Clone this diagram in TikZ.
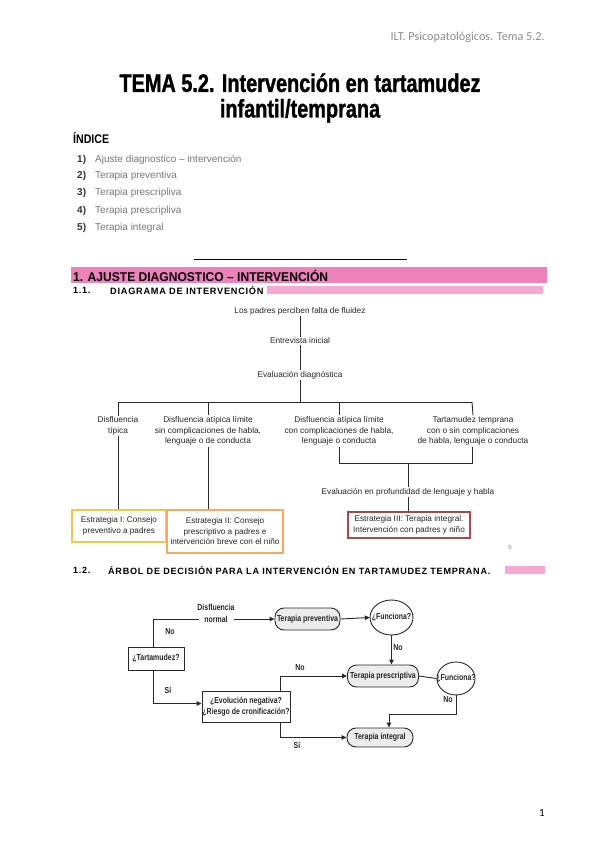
\documentclass[tikz,border=0pt]{standalone}
\usepackage{fontspec}
\setmainfont{Liberation Sans}
\newfontfamily\headfont{Carlito}
\newfontfamily\titlefont[FakeStretch=0.78,FakeBold=1.2]{Liberation Sans}
\newfontfamily\condfont[FakeStretch=0.95]{Liberation Sans}
\newfontfamily\spacedfont[LetterSpace=8]{Liberation Sans}
\newfontfamily\narrowfont[FakeStretch=0.8]{Liberation Sans}
\newfontfamily\idxfont[FakeStretch=0.85]{Liberation Sans}
\usetikzlibrary{arrows.meta,shapes.geometric}
\definecolor{pinkA}{RGB}{238,130,186}
\definecolor{pinkB}{RGB}{245,170,212}
\definecolor{txtgray}{RGB}{120,120,120}
\definecolor{hdgray}{RGB}{140,140,140}
\definecolor{goldC}{RGB}{250,196,70}
\definecolor{orangeC}{RGB}{247,170,95}
\definecolor{redC}{RGB}{172,72,72}
\definecolor{pillfill}{RGB}{236,236,236}
\definecolor{lineC}{RGB}{40,40,40}
\begin{document}
\begin{tikzpicture}[x=1pt,y=-1pt,
  lbl/.style={font=\fontsize{8.3}{10.5}\selectfont, align=center, inner sep=1pt, text=black!85},
  dline/.style={draw=lineC, line width=0.9pt},
  stratbox/.style={draw=#1, line width=1.4pt, align=center, inner sep=0pt, font=\fontsize{8.2}{10.5}\selectfont, text=black!85},
  dtxt/.style={font=\narrowfont\bfseries\fontsize{8.7}{10.5}\selectfont, text=black!85},
  pill/.style={dtxt, draw=lineC, line width=0.9pt, fill=pillfill, rounded corners=9pt, inner sep=0pt},
  qbox/.style={dtxt, draw=lineC, line width=0.9pt, fill=white, inner sep=0pt, align=center},
  qell/.style={dtxt, inner sep=0pt},
  arr/.style={dline, -{Triangle[length=5pt,width=4.5pt]}},
  lab/.style={dtxt, inner sep=0pt},
  idxnum/.style={anchor=west, inner sep=0pt, font=\fontsize{10}{11}\selectfont\bfseries, text=black!80},
  idxtxt/.style={anchor=west, inner sep=0pt, font=\fontsize{10}{11}\selectfont, text=txtgray}
]
\useasboundingbox (0,0) rectangle (599,848);
\fill[white] (0,0) rectangle (599,848);

% header
\node[anchor=east, inner sep=0pt, font=\headfont\fontsize{12.2}{13}\selectfont, text=hdgray] (hdr) at (545,37) {ILT. Psicopatológicos. Tema 5.2.};

% title
\node[align=center, inner sep=0pt, font=\titlefont\bfseries\fontsize{25.5}{25.5}\selectfont] (title) at (300,98) {TEMA 5.2. Intervención en tartamudez\\infantil/temprana};

% index
\node[anchor=west, inner sep=0pt, font=\idxfont\bfseries\fontsize{12.5}{13}\selectfont] (idx) at (73,138) {ÍNDICE};
\node[idxnum] (n1) at (77,160) {1)}; \node[idxtxt] (t1) at (95,160) {Ajuste diagnostico – intervención};
\node[idxnum] (n2) at (77,176) {2)}; \node[idxtxt] (t2) at (95,176) {Terapia preventiva};
\node[idxnum] (n3) at (77,193) {3)}; \node[idxtxt] (t3) at (95,193) {Terapia prescripliva};
\node[idxnum] (n4) at (77,211) {4)}; \node[idxtxt] (t4) at (95,211) {Terapia prescripliva};
\node[idxnum] (n5) at (77,228) {5)}; \node[idxtxt] (t5) at (95,228) {Terapia integral};

% separator rule
\draw[line width=0.8pt] (194,259) -- (407,259);

% section 1 bar
\fill[pinkA] (71,267) rectangle (547,283);
\node[anchor=west, inner sep=0pt, font=\condfont\bfseries\fontsize{12.7}{13}\selectfont] (s1) at (73,275.5) {1. AJUSTE DIAGNOSTICO – INTERVENCIÓN};
\fill[pinkB] (267,286) rectangle (543,294);
\node[anchor=west, inner sep=0pt, font=\spacedfont\bfseries\fontsize{9}{10}\selectfont] (s11a) at (73,290.5) {1.1.};
\node[anchor=west, inner sep=0pt, font=\spacedfont\bfseries\fontsize{9.2}{10}\selectfont] (s11b) at (110,290.5) {DIAGRAMA DE INTERVENCIÓN};

% ---------------- diagram 1
\node[lbl] (p1) at (300,311) {Los padres perciben falta de fluidez};
\node[lbl] (p2) at (300,341) {Entrevista inicial};
\node[lbl] (p3) at (300,375) {Evaluación diagnóstica};
\draw[dline] (p1) -- (p2);
\draw[dline] (p2) -- (p3);
\coordinate (h0) at (300,402);
\coordinate (b1) at (118,402);
\coordinate (b2) at (208,402);
\coordinate (b3) at (339,402);
\coordinate (b4) at (472,402);
\draw[dline] (p3) -- (h0);
\draw[dline] (b1) -- (b4);
\node[lbl] (L1) at (118,426) {Disfluencia\\típica};
\node[lbl] (L2) at (208,431) {Disfluencia atípica límite\\sin complicaciones de habla,\\lenguaje o de conducta};
\node[lbl] (L3) at (339,431) {Disfluencia atípica límite\\con complicaciones de habla,\\lenguaje o conducta};
\node[lbl] (L4) at (473,431) {Tartamudez temprana\\con o sin complicaciones\\de habla, lenguaje o conducta};
\draw[dline] (b1) -- (L1.north);
\draw[dline] (b2) -- (L2.north);
\draw[dline] (b3) -- (L3.north);
\draw[dline] (b4) -- (L4.north);
\node[stratbox=goldC, minimum width=94pt, minimum height=32pt] (S1) at (119,526) {Estrategia I: Consejo\\preventivo a padres};
\node[stratbox=orangeC, minimum width=116pt, minimum height=43pt] (S2) at (225,531.5) {Estrategia II: Consejo\\prescriptivo a padres e\\intervención breve con el niño};
\node[stratbox=redC, minimum width=122pt, minimum height=26pt] (S3) at (409,525) {Estrategia III: Terapia integral.\\Intervención con padres y niño};
\draw[dline] (L1.south) -- (L1.south |- S1.north);
\draw[dline] (L2.south) -- (L2.south |- S2.north);
\coordinate (j3) at (339,463);
\coordinate (j4) at (472,463);
\coordinate (jm) at (408,463);
\draw[dline] (L3.south) -- (j3) -- (j4) -- (L4.south -| j4);
\node[lbl] (E1) at (408,492) {Evaluación en profundidad de lenguaje y habla};
\draw[dline] (jm) -- (E1.north);
\draw[dline] (E1.south) -- (E1.south |- S3.north);
\node[inner sep=0pt, font=\fontsize{6}{7}\selectfont, text=hdgray] (six) at (510,547) {6};

% section 1.2
\node[anchor=west, inner sep=0pt, font=\spacedfont\bfseries\fontsize{9}{10}\selectfont] (s12a) at (73,570.5) {1.2.};
\node[anchor=west, inner sep=0pt, font=\spacedfont\bfseries\fontsize{9.1}{10}\selectfont] (s12b) at (108,570.5) {ÁRBOL DE DECISIÓN PARA LA INTERVENCIÓN EN TARTAMUDEZ TEMPRANA.};
\fill[pinkB] (505,566) rectangle (545,574);

% ---------------- diagram 2
\node[qbox, minimum width=56pt, minimum height=23pt] (T) at (156,658.5) {¿Tartamudez?};
\node[lab, align=center, font=\narrowfont\bfseries\fontsize{8.7}{12}\selectfont] (DN) at (216,613.5) {Disfluencia\\normal};
\coordinate (dl) at (199,619);
\coordinate (dr) at (234,619);
\node[pill, minimum width=65pt, minimum height=22pt] (TP) at (307.5,619) {Terapia preventiva};
\node[qell, minimum width=43pt, minimum height=35pt] (F1) at (391.5,617.5) {¿Funciona?};
\draw[dline] (F1.center) ellipse [x radius=21.5pt, y radius=17.5pt];
\node[pill, minimum width=71pt, minimum height=22pt] (TPr) at (383,676) {Terapia prescriptiva};
\node[qell, minimum width=38pt, minimum height=33pt] (F2) at (456,678.5) {¿Funciona?};
\draw[dline] (F2.center) ellipse [x radius=19pt, y radius=16.5pt];
\node[pill, minimum width=66pt, minimum height=19pt] (TI) at (380,737.5) {Terapia integral};
\node[qbox, minimum width=88pt, minimum height=31pt] (E) at (246,706.5) {¿Evolución negativa?\\¿Riesgo de cronificación?};

\draw[dline] ([xshift=-3pt]T.north) |- (dl);
\draw[arr] (dr) -- (TP.west);
\draw[arr] (TP.east) -- (F1.west);
\draw[arr] (F1.south) -- (F1.south |- TPr.north);
\draw[dline] (TPr.east) -- (F2.west);
\coordinate (k) at (389,714);
\draw[arr] (F2.south) |- (k) -- (k |- TI.north);
\draw[arr] ([xshift=-3pt]T.south) |- ([yshift=3pt]E.west);
\draw[arr] ([xshift=34pt]E.north) |- (TPr.west);
\draw[arr] ([xshift=34pt]E.south) |- (TI.west);

\node[lab] (l1) at (170,632) {No};
\node[lab] (l2) at (168,690) {Sí};
\node[lab] (l3) at (398,648) {No};
\node[lab] (l4) at (448,700) {No};
\node[lab] (l5) at (300,668) {No};
\node[lab] (l6) at (297,745) {Sí};

% page number
\node[inner sep=0pt, font=\headfont\fontsize{11}{12}\selectfont] (pg) at (542,813) {1};
\end{tikzpicture}
\end{document}
